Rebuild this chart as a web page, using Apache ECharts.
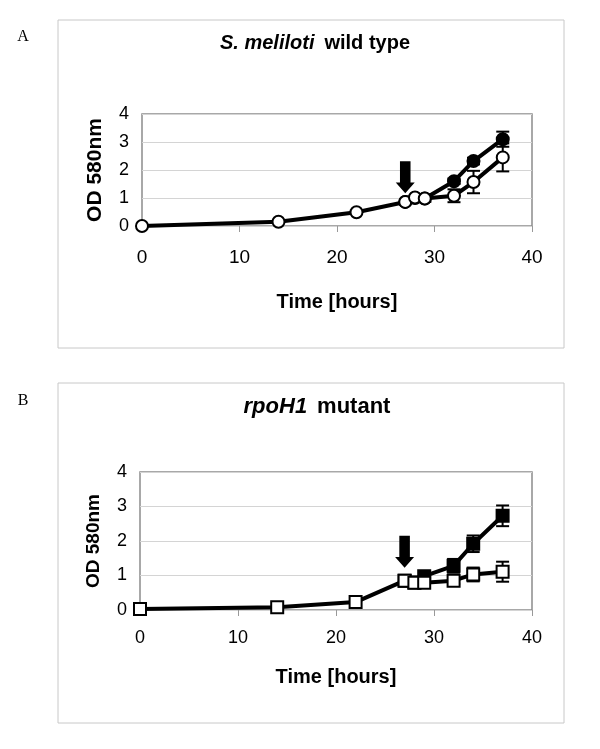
<!DOCTYPE html>
<html>
<head>
<meta charset="utf-8">
<script src="https://cdn.jsdelivr.net/npm/echarts@6/dist/echarts.min.js"></script>
<style>
  html, body { margin: 0; padding: 0; background: #fff; }
  #chart { width: 600px; height: 749px; }
</style>
</head>
<body>
<div id="chart"></div>
<script>
// sampling times (hours)
const timesAll = [0, 14, 22, 27, 28, 29, 32, 34, 37];
const timesShock = [27, 28, 29, 32, 34, 37];

// panel A: S. meliloti wild type
const wtOpen = [0, 0.15, 0.49, 0.86, 1.02, 0.98, 1.08, 1.57, 2.45];
const wtOpenErr = [0, 0, 0, 0, 0, 0.12, 0.23, 0.4, 0.5];
const wtFilled = [0.86, 1.0, 0.98, 1.6, 2.32, 3.1];
const wtFilledErr = [0, 0, 0.1, 0.1, 0.12, 0.27];

// panel B: rpoH1 mutant
const mutOpen = [0.03, 0.08, 0.23, 0.85, 0.79, 0.79, 0.85, 1.03, 1.11];
const mutOpenErr = [0, 0, 0, 0, 0, 0, 0.1, 0.2, 0.29];
const mutFilled = [0.85, 0.8, 0.98, 1.28, 1.92, 2.73];
const mutFilledErr = [0, 0, 0, 0.2, 0.24, 0.3];

// arrow (time of shift) position, as [time, OD]
const arrowA = [27, 1.74];
const arrowB = [27, 1.69];

const xTicks = [0, 10, 20, 30, 40];
const yTicks = [0, 1, 2, 3, 4];

const FONT = 'Liberation Sans, Arial, sans-serif';
const ARROW = 'path://M4,0 L14,0 L14,20 L18,20 L9,30 L0,20 L4,20 Z';

const pairs = (t, v) => t.map((x, i) => [x, v[i]]);
const errData = (t, v, e) => t.map((x, i) => [x, v[i] - e[i], v[i] + e[i]]).filter((d, i) => e[i] > 0);

function errorItem(params, api) {
  const x = api.value(0);
  const lo = api.coord([x, api.value(1)]);
  const hi = api.coord([x, api.value(2)]);
  const w = 6.5;
  const style = { stroke: '#000', lineWidth: 2 };
  return {
    type: 'group',
    children: [
      { type: 'line', shape: { x1: lo[0], y1: lo[1], x2: hi[0], y2: hi[1] }, style },
      { type: 'line', shape: { x1: lo[0] - w, y1: lo[1], x2: lo[0] + w, y2: lo[1] }, style },
      { type: 'line', shape: { x1: hi[0] - w, y1: hi[1], x2: hi[0] + w, y2: hi[1] }, style }
    ]
  };
}

function xAxisFor(idx, fs, margin, nameGap) {
  return {
    type: 'value', gridIndex: idx, min: 0, max: 40, interval: 10,
    name: 'Time [hours]', nameLocation: 'middle', nameGap: nameGap,
    nameTextStyle: { fontFamily: FONT, fontWeight: 'bold', fontSize: 20, color: '#000' },
    axisLine: { show: false },
    axisTick: { show: true, length: 6, lineStyle: { color: '#999' } },
    axisLabel: { fontFamily: FONT, fontSize: fs, color: '#000', margin: margin,
      formatter: v => xTicks.includes(v) ? String(v) : '' },
    splitLine: { show: false }
  };
}

function yAxisFor(idx, fs, nameFs, nameGap) {
  return {
    type: 'value', gridIndex: idx, min: 0, max: 4, interval: 1,
    name: 'OD 580nm', nameLocation: 'middle', nameGap: nameGap,
    nameTextStyle: { fontFamily: FONT, fontWeight: 'bold', fontSize: nameFs, color: '#000' },
    axisLine: { show: false },
    axisTick: { show: false },
    axisLabel: { fontFamily: FONT, fontSize: fs, color: '#000', margin: 13,
      formatter: v => yTicks.includes(v) ? String(v) : '' },
    splitLine: { show: true, lineStyle: { color: '#d4d4d4', width: 1 } }
  };
}

function lineSeries(idx, data, symbol, filled, arrow, z) {
  const s = {
    type: 'line', xAxisIndex: idx, yAxisIndex: idx,
    data: data, symbol: symbol, symbolSize: 12, z: z,
    lineStyle: { color: '#000', width: 4 },
    itemStyle: { color: filled ? '#000' : '#fff', borderColor: '#000', borderWidth: 2 }
  };
  if (arrow) {
    s.markPoint = {
      symbol: ARROW, symbolSize: [19, 32], symbolKeepAspect: false,
      label: { show: false },
      itemStyle: { color: '#000' },
      data: [{ coord: arrow }]
    };
  }
  return s;
}

function errSeries(idx, data, z) {
  return { type: 'custom', xAxisIndex: idx, yAxisIndex: idx, data: data, renderItem: errorItem, z: z };
}

const chart = echarts.init(document.getElementById('chart'));

const options = {
  animation: false,
  backgroundColor: '#fff',
  title: [
    {
      left: 310, top: 28, textAlign: 'center',
      text: '{i|S. meliloti}  {b|wild type}',
      textStyle: { rich: {
        i: { fontFamily: FONT, fontSize: 20, fontWeight: 'bold', fontStyle: 'italic', color: '#000' },
        b: { fontFamily: FONT, fontSize: 20, fontWeight: 'bold', color: '#000' }
      } }
    },
    {
      left: 312, top: 391, textAlign: 'center',
      text: '{i|rpoH1}  {b|mutant}',
      textStyle: { rich: {
        i: { fontFamily: FONT, fontSize: 22, fontWeight: 'bold', fontStyle: 'italic', color: '#000' },
        b: { fontFamily: FONT, fontSize: 22, fontWeight: 'bold', color: '#000' }
      } }
    }
  ],
  graphic: [
    { type: 'rect', shape: { x: 58, y: 20, width: 506, height: 328 },
      style: { fill: null, stroke: '#c8c8c8', lineWidth: 1 }, z: -1 },
    { type: 'rect', shape: { x: 58, y: 383, width: 506, height: 340 },
      style: { fill: null, stroke: '#c8c8c8', lineWidth: 1 }, z: -1 },
    { type: 'text', x: 23, y: 37, style: { text: 'A', fontFamily: 'Liberation Serif, serif', fontSize: 16,
      fill: '#000', textAlign: 'center', textVerticalAlign: 'middle' } },
    { type: 'text', x: 23, y: 401, style: { text: 'B', fontFamily: 'Liberation Serif, serif', fontSize: 16,
      fill: '#000', textAlign: 'center', textVerticalAlign: 'middle' } }
  ],
  grid: [
    { left: 142, top: 114, width: 390, height: 112, show: true,
      borderColor: '#8c8c8c', borderWidth: 1.5, backgroundColor: 'transparent' },
    { left: 140, top: 472, width: 392, height: 138, show: true,
      borderColor: '#8c8c8c', borderWidth: 1.5, backgroundColor: 'transparent' }
  ],
  xAxis: [xAxisFor(0, 19, 22, 66), xAxisFor(1, 18, 19, 57)],
  yAxis: [yAxisFor(0, 18, 21, 36), yAxisFor(1, 18, 19, 37)],
  series: [
    errSeries(0, errData(timesShock, wtFilled, wtFilledErr), 2),
    errSeries(0, errData(timesAll, wtOpen, wtOpenErr), 2),
    lineSeries(0, pairs(timesShock, wtFilled), 'circle', true, null, 3),
    lineSeries(0, pairs(timesAll, wtOpen), 'circle', false, arrowA, 4),

    errSeries(1, errData(timesShock, mutFilled, mutFilledErr), 2),
    errSeries(1, errData(timesAll, mutOpen, mutOpenErr), 2),
    lineSeries(1, pairs(timesShock, mutFilled), 'rect', true, null, 3),
    lineSeries(1, pairs(timesAll, mutOpen), 'rect', false, arrowB, 4)
  ]
};

chart.setOption(options);

window.addEventListener('resize', () => {
  chart.resize();
});
</script>
</body>
</html>
